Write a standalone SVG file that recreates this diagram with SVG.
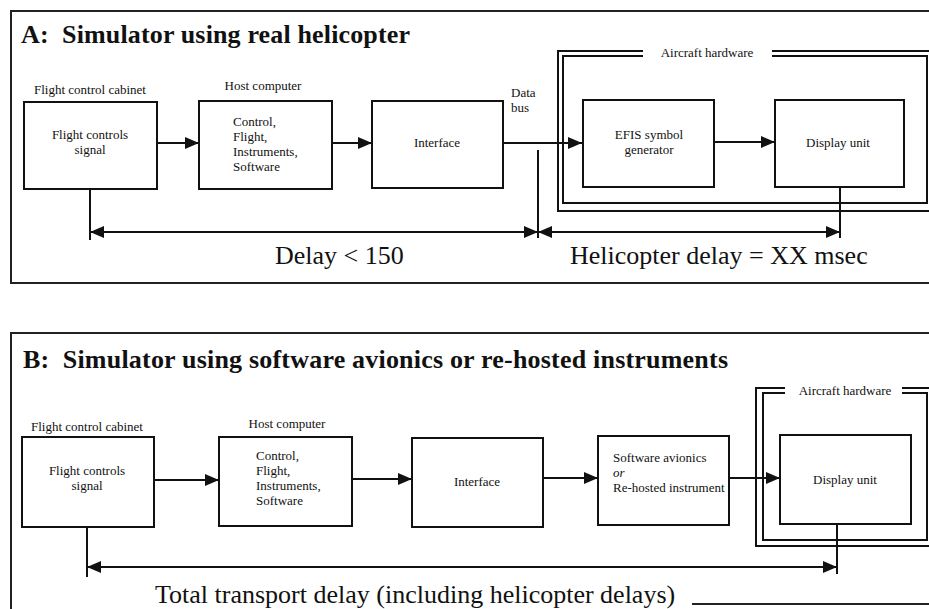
<svg xmlns="http://www.w3.org/2000/svg" width="929" height="609" viewBox="0 0 929 609">
<style>
text{font-family:"Liberation Serif","Times New Roman",serif;fill:#111}
.s{font-size:13px}
.big{font-size:26px}
.title{font-size:26px;font-weight:bold;white-space:pre}
.box{fill:#fff;stroke:#111;stroke-width:2}
.ln{fill:none;stroke:#111;stroke-width:2}
.frame{fill:none;stroke:#111;stroke-width:2}
.panel{fill:none;stroke:#222;stroke-width:2}
.c{text-anchor:middle}
</style>
<defs>
<marker id="ah" markerUnits="userSpaceOnUse" markerWidth="14" markerHeight="12" refX="14" refY="6" orient="auto-start-reverse">
<path d="M0,0 L14,6 L0,12 Z" fill="#111"/>
</marker>
</defs>

<g id="panelA">
<path class="panel" d="M929,11 H11 V283 H929"/>
<text class="title" x="21" y="43" textLength="389">A:  Simulator using real helicopter</text>
</g>

<g id="hardwareA">
<path class="frame" d="M643,51 H558 V211 H929 M772,51 H929"/>
<path class="frame" d="M643,56 H563 V203 H927 V56 H772"/>
<text class="s c" x="707" y="57">Aircraft hardware</text>
</g>

<g id="a-cabinet">
<text class="s c" x="90" y="94">Flight control cabinet</text>
<rect class="box" x="24" y="102" width="133" height="87"/>
<text class="s c" x="90" y="139">Flight controls</text>
<text class="s c" x="90" y="154">signal</text>
</g>

<g id="a-host">
<text class="s c" x="263" y="90">Host computer</text>
<rect class="box" x="199" y="101" width="133" height="88"/>
<text class="s" x="233" y="126">Control,</text>
<text class="s" x="233" y="141">Flight,</text>
<text class="s" x="233" y="156">Instruments,</text>
<text class="s" x="233" y="171">Software</text>
</g>

<g id="a-interface">
<rect class="box" x="372" y="101" width="131" height="87"/>
<text class="s c" x="437" y="147">Interface</text>
</g>

<g id="a-databus">
<text class="s" x="511" y="97">Data</text>
<text class="s" x="511" y="112">bus</text>
</g>

<g id="a-efis">
<rect class="box" x="583" y="100" width="131" height="87"/>
<text class="s c" x="649" y="139">EFIS symbol</text>
<text class="s c" x="649" y="154">generator</text>
</g>

<g id="a-display">
<rect class="box" x="775" y="100" width="129" height="87"/>
<text class="s c" x="838" y="147">Display unit</text>
</g>

<g id="a-connectors">
<path class="ln" d="M157,143 H199" marker-end="url(#ah)"/>
<path class="ln" d="M332,143 H372" marker-end="url(#ah)"/>
<path class="ln" d="M503,143 H582" marker-end="url(#ah)"/>
<path class="ln" d="M714,142 H775" marker-end="url(#ah)"/>
<path class="ln" d="M90,189 V240"/>
<path class="ln" d="M538,150 V238"/>
<path class="ln" d="M840,187 V238"/>
<path class="ln" d="M90,232 H538" marker-start="url(#ah)" marker-end="url(#ah)"/>
<path class="ln" d="M538,232 H840" marker-start="url(#ah)" marker-end="url(#ah)"/>
</g>
<text class="big" x="275" y="264">Delay &lt; 150</text>
<text class="big" x="570" y="264">Helicopter delay = XX msec</text>

<g id="panelB">
<path class="panel" d="M929,333 H11 V609"/>
<path class="panel" d="M692,604 H929"/>
<text class="title" x="23" y="368" textLength="705">B:  Simulator using software avionics or re-hosted instruments</text>
</g>

<g id="hardwareB">
<path class="frame" d="M785,388 H756 V546 H929 M902,388 H929"/>
<path class="frame" d="M785,393 H763 V540 H927 V393 H902"/>
<text class="s c" x="845" y="395">Aircraft hardware</text>
</g>

<g id="b-cabinet">
<text class="s c" x="87" y="431">Flight control cabinet</text>
<rect class="box" x="22" y="437" width="132" height="90"/>
<text class="s c" x="87" y="475">Flight controls</text>
<text class="s c" x="87" y="490">signal</text>
</g>

<g id="b-host">
<text class="s c" x="287" y="428">Host computer</text>
<rect class="box" x="219" y="437" width="133" height="89"/>
<text class="s" x="256" y="460">Control,</text>
<text class="s" x="256" y="475">Flight,</text>
<text class="s" x="256" y="490">Instruments,</text>
<text class="s" x="256" y="505">Software</text>
</g>

<g id="b-interface">
<rect class="box" x="412" y="438" width="131" height="89"/>
<text class="s c" x="477" y="486">Interface</text>
</g>

<g id="b-software">
<rect class="box" x="598" y="436" width="131" height="89"/>
<text class="s" x="613" y="462">Software avionics</text>
<text class="s" x="613" y="477" font-style="italic">or</text>
<text class="s" x="613" y="492">Re-hosted instrument</text>
</g>

<g id="b-display">
<rect class="box" x="780" y="435" width="131" height="89"/>
<text class="s c" x="845" y="484">Display unit</text>
</g>

<g id="b-connectors">
<path class="ln" d="M154,480 H219" marker-end="url(#ah)"/>
<path class="ln" d="M352,479 H412" marker-end="url(#ah)"/>
<path class="ln" d="M543,478 H598" marker-end="url(#ah)"/>
<path class="ln" d="M729,478 H780" marker-end="url(#ah)"/>
<path class="ln" d="M87,527 V577"/>
<path class="ln" d="M837,524 V574"/>
<path class="ln" d="M87,567 H837" marker-start="url(#ah)" marker-end="url(#ah)"/>
</g>
<text class="big" x="155" y="603">Total transport delay (including helicopter delays)</text>
</svg>
